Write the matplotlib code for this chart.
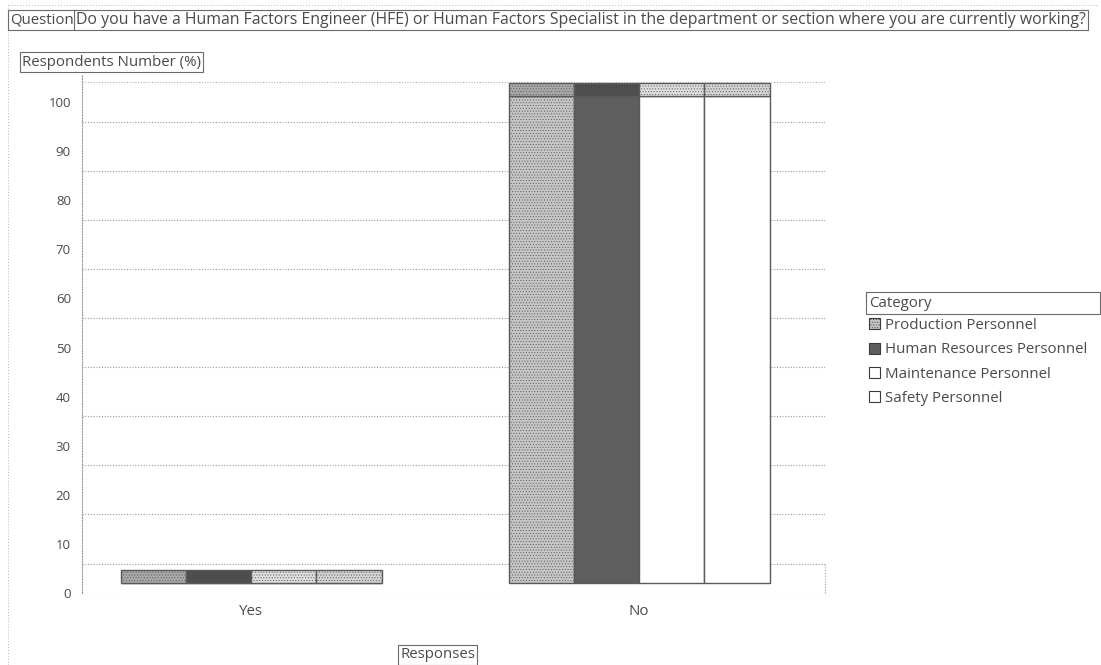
import matplotlib
matplotlib.use('Agg')
import matplotlib.pyplot as plt
from matplotlib.patches import Rectangle, Patch
import numpy as np

# survey answers, percent of respondents per personnel group
responses = ['Yes', 'No']
categories = ['Production Personnel', 'Human Resources Personnel',
              'Maintenance Personnel', 'Safety Personnel']
yes_pct = [0, 0, 0, 0]
no_pct = [100, 100, 100, 100]
yticks = [0, 10, 20, 30, 40, 50, 60, 70, 80, 90, 100]

question = ('Do you have a Human Factors Engineer (HFE) or Human Factors Specialist '
            'in the department or section where you are currently working?')

# face colour, top colour, hatch for each category
front_colors = ['#c6c6c6', '#5e5e5e', '#ffffff', '#ffffff']
top_colors = ['#a9a9a9', '#4e4e4e', '#dedede', '#d4d4d4']
front_hatch = ['......', '', '', '']
top_hatch = ['......', '', '......', '......']

plt.rcParams['font.family'] = ['Open Sans', 'DejaVu Sans']
plt.rcParams['hatch.linewidth'] = 0.4
plt.rcParams['hatch.color'] = '#8a8a8a'
txt = '#4a4a4a'
edge = '#5a5a5a'
fs = 10.8

fig = plt.figure(figsize=(11.01, 6.65), dpi=100)
ax = fig.add_axes([82 / 1101, 72 / 665, 743 / 1101, 518 / 665])

depth = 2.0      # fake 3d offset of the bar fronts
cap = 2.6        # height of the bar tops
wall = 6.0       # grid lines sit on the back wall
width = 0.168

# back wall grid
for t in yticks[:-1]:
    ax.axhline(t + wall, color='#9a9a9a', lw=0.8, ls=(0, (1, 1.5)), zorder=0)
ax.axhline(104, color='#b0b0b0', lw=0.8, ls=(0, (1, 1.5)), zorder=0)
ax.axhline(0, color='#9a9a9a', lw=0.8, ls=(0, (1, 1.5)), zorder=0)
ax.plot([1.479, 1.479], [0, wall], color='#9a9a9a', lw=0.8, ls=(0, (1, 1.5)),
        clip_on=False, zorder=0)

x = np.arange(len(responses))
values = [yes_pct, no_pct]
for i in range(len(categories)):
    xs = x + (i - 1.5) * width
    v = np.array([values[0][i], values[1][i]], dtype=float)
    front = v * 0.992
    ax.bar(xs, front, width, bottom=depth, color=front_colors[i],
           hatch=front_hatch[i], edgecolor=edge, lw=1.0, zorder=3)
    ax.bar(xs, cap, width, bottom=depth + front, color=top_colors[i],
           hatch=top_hatch[i], edgecolor=edge, lw=1.0, zorder=3)

ax.set_xlim(-0.436, 1.479)
ax.set_ylim(0, 105.5)
ax.set_yticks(yticks)
ax.set_yticklabels([str(t) for t in yticks], color=txt, fontsize=9.5)
ax.set_xticks(x)
ax.set_xticklabels(responses, color=txt, fontsize=fs)
ax.tick_params(axis='y', length=0, pad=8)
ax.tick_params(axis='x', length=0, pad=8)
for s in ['top', 'right', 'bottom']:
    ax.spines[s].set_visible(False)
ax.spines['left'].set_color('#9a9a9a')
ax.spines['left'].set_linestyle((0, (1, 1.5)))
ax.spines['left'].set_linewidth(0.8)

box = dict(boxstyle='square,pad=0.15', fc='white', ec='#6a6a6a', lw=0.8)


def label(px, py, s, size=fs):
    # framed label, pixel position from the top-left corner
    fig.text(px / 1101, 1 - py / 665, s, ha='left', va='center', color=txt,
             fontsize=size, bbox=box)


label(10, 20, 'Question')
label(76, 20, question, size=11.4)
label(22, 62, 'Respondents Number (%)')
label(400, 655, 'Responses')

# legend title sits in its own wide frame
fig.patches.append(Rectangle((866 / 1101, 1 - 314 / 665), 234 / 1101, 22 / 665,
                             transform=fig.transFigure, fill=False,
                             edgecolor='#6a6a6a', lw=0.8))
fig.text(869 / 1101, 1 - 303 / 665, 'Category', ha='left', va='center',
         color=txt, fontsize=fs)

# outer dotted frame
fig.add_artist(plt.Line2D([8 / 1101, 8 / 1101], [0, 1 - 5 / 665],
                          transform=fig.transFigure, color='#b5b5b5', lw=0.7,
                          ls=(0, (1, 2))))
fig.add_artist(plt.Line2D([8 / 1101, 1098 / 1101], [1 - 5 / 665, 1 - 5 / 665],
                          transform=fig.transFigure, color='#b5b5b5', lw=0.7,
                          ls=(0, (1, 2))))

handles = [Patch(facecolor=front_colors[i], hatch=front_hatch[i], edgecolor='#3a3a3a',
                 lw=0.8) for i in range(len(categories))]
fig.legend(handles, categories, loc='upper left',
           bbox_to_anchor=(869 / 1101, 1 - 318 / 665), frameon=False,
           handlelength=0.75, handleheight=0.75, handletextpad=0.3,
           labelspacing=0.62, fontsize=fs, borderpad=0, borderaxespad=0,
           labelcolor=txt)

fig.savefig('out.png', dpi=100, facecolor='white')
